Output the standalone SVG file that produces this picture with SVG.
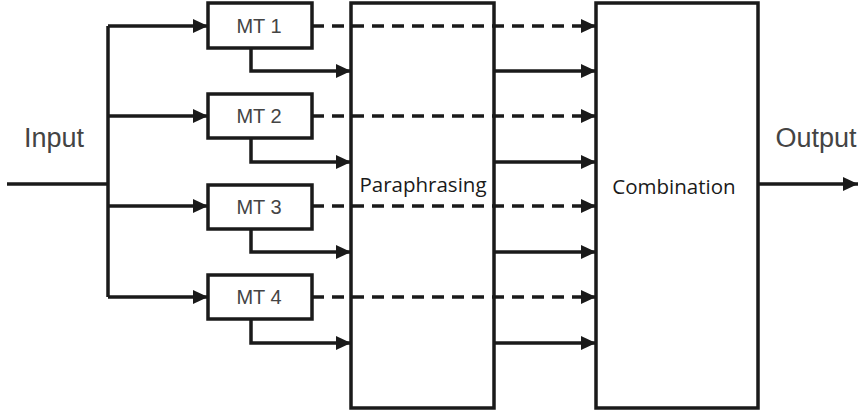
<svg xmlns="http://www.w3.org/2000/svg" width="865" height="414" viewBox="0 0 865 414">
<defs>
<marker id="ah" markerWidth="15" markerHeight="14" refX="15" refY="7" orient="auto" markerUnits="userSpaceOnUse">
<path d="M0,0 L15,7 L0,14 Z" fill="#1a1a1a"/>
</marker>
<style>
.box{fill:#fff;stroke:#1a1a1a;stroke-width:3.5}
.ln{fill:none;stroke:#1a1a1a;stroke-width:3.5}
.arr{fill:none;stroke:#1a1a1a;stroke-width:3.5;marker-end:url(#ah)}
.dash{fill:none;stroke:#1a1a1a;stroke-width:3.5;stroke-dasharray:12 8;marker-end:url(#ah)}
.mt{font-family:"Liberation Sans",Arial,sans-serif;font-size:20px;fill:#444;text-anchor:middle}
.io{font-family:"Liberation Sans",Arial,sans-serif;font-size:27px;fill:#444;text-anchor:middle}
.big{font-family:"Open Sans","Noto Sans",sans-serif;font-size:20.5px;fill:#1a1a1a;text-anchor:middle}
</style>
</defs>
<rect width="865" height="414" fill="#fff"/>
<g id="connectors">
<path class="ln" d="M7,184 H108"/>
<path class="ln" d="M108,26 V297"/>
<path class="arr" d="M108,26 H208"/>
<path class="arr" d="M108,116 H208"/>
<path class="arr" d="M108,206 H208"/>
<path class="arr" d="M108,297 H208"/>
<path class="arr" d="M251,48 V71 H351"/>
<path class="arr" d="M251,138 V162 H351"/>
<path class="arr" d="M251,229 V252 H351"/>
<path class="arr" d="M251,319 V343 H351"/>
<path class="dash" d="M312,26 H596"/>
<path class="dash" d="M312,116 H596"/>
<path class="dash" d="M312,206 H596"/>
<path class="dash" d="M312,297 H596"/>
<path class="arr" d="M494,71 H596"/>
<path class="arr" d="M494,162 H596"/>
<path class="arr" d="M494,252 H596"/>
<path class="arr" d="M494,343 H596"/>
<path class="arr" d="M758,184 H858"/>
</g>
<g id="paraphrasing">
<rect class="box" x="351" y="3" width="143" height="405" fill-opacity="0"/>
<text class="big" x="423" y="192">Paraphrasing</text>
</g>
<g id="combination">
<rect class="box" x="596" y="3" width="162" height="405"/>
<text class="big" x="674" y="194">Combination</text>
</g>
<g id="mt1"><rect class="box" x="208" y="3" width="104" height="45"/><text class="mt" x="259" y="33">MT 1</text></g>
<g id="mt2"><rect class="box" x="208" y="94" width="104" height="44"/><text class="mt" x="259" y="123">MT 2</text></g>
<g id="mt3"><rect class="box" x="208" y="185" width="104" height="44"/><text class="mt" x="259" y="214">MT 3</text></g>
<g id="mt4"><rect class="box" x="208" y="275" width="104" height="44"/><text class="mt" x="259" y="304">MT 4</text></g>
<g id="labels">
<text class="io" x="54" y="147">Input</text>
<text class="io" x="816" y="147">Output</text>
</g>
</svg>
